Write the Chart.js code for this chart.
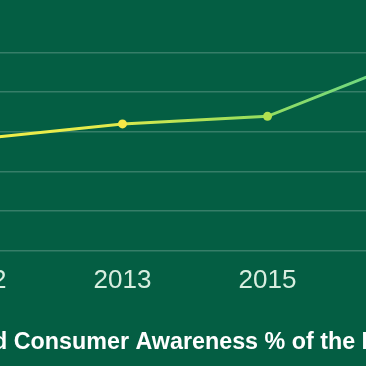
<!DOCTYPE html>
<html>
<head>
<meta charset="utf-8">
<script src="https://cdn.jsdelivr.net/npm/chart.js@4/dist/chart.umd.min.js"></script>
<style>
  html, body { margin: 0; padding: 0; width: 366px; height: 366px; overflow: hidden; background: #045e43; }
  #wrap { position: absolute; left: -100px; top: 0; width: 700px; height: 366px; }
</style>
</head>
<body>
<div id="wrap"><canvas id="c" width="700" height="366"></canvas></div>
<script>
const years = ['2012', '2013', '2015', '2017'];
const awareness = [28.2, 32.0, 33.9, 48.4];
const yTicks = [0, 10, 20, 30, 40, 50];
const pointColors = ['#f2ef48', '#f6e847', '#b2e04f', '#62d68c'];
const titleText = 'Brand Consumer Awareness % of the Population';

const BG = '#045e43';
const FONT = "'Liberation Sans', Arial, sans-serif";

function lineGradient(ctx) {
  const chart = ctx.chart;
  const area = chart.chartArea;
  if (!area) return pointColors[0];
  const xs = chart.scales.x;
  const x0 = xs.getPixelForValue(0);
  const x1 = xs.getPixelForValue(years.length - 1);
  const g = chart.ctx.createLinearGradient(x0, 0, x1, 0);
  g.addColorStop(0, '#f2ef48');
  g.addColorStop(0.3, '#e2ea4c');
  g.addColorStop(0.62, '#9bde5c');
  g.addColorStop(1, '#5ed68e');
  return g;
}

const bgPlugin = {
  id: 'bg',
  beforeDraw(chart) {
    const c = chart.ctx;
    c.save();
    c.fillStyle = BG;
    c.fillRect(0, 0, chart.width, chart.height);
    c.restore();
  }
};

new Chart(document.getElementById('c'), {
  type: 'line',
  data: {
    labels: years,
    datasets: [{
      data: awareness,
      borderColor: lineGradient,
      borderWidth: 3,
      pointBackgroundColor: pointColors,
      pointBorderColor: pointColors,
      pointRadius: 4.5,
      pointBorderWidth: 0,
      tension: 0,
      fill: false
    }]
  },
  options: {
    responsive: false,
    devicePixelRatio: 1,
    animation: false,
    layout: { padding: { left: 40, right: 87.5, top: 52.5, bottom: 9 } },
    plugins: {
      legend: { display: false },
      tooltip: { enabled: false },
      title: {
        display: true,
        text: titleText,
        position: 'bottom',
        align: 'start',
        color: '#ffffff',
        font: { family: FONT, size: 23.3, weight: 'bold' },
        padding: { top: 19, bottom: 0 }
      }
    },
    scales: {
      x: {
        grid: { display: false, drawTicks: false },
        border: { display: false },
        ticks: {
          color: '#d8eee0',
          font: { family: FONT, size: 26 },
          padding: 14,
          maxRotation: 0,
          autoSkip: false
        }
      },
      y: {
        min: 0,
        max: 50,
        afterFit(scale) { scale.width = 37.5; },
        afterBuildTicks(scale) { scale.ticks = yTicks.map(v => ({ value: v })); },
        grid: { color: 'rgba(255,255,255,0.2)', lineWidth: 1.6, drawTicks: false },
        border: { display: false },
        ticks: {
          color: '#d8eee0',
          font: { family: FONT, size: 16 },
          callback: v => v + '%'
        }
      },
      y2: {
        position: 'right',
        min: 0,
        max: 50,
        afterFit(scale) { scale.width = 100; },
        grid: { display: false, drawTicks: false },
        border: { display: false },
        ticks: { display: false }
      }
    }
  },
  plugins: [bgPlugin]
});
</script>
</body>
</html>
